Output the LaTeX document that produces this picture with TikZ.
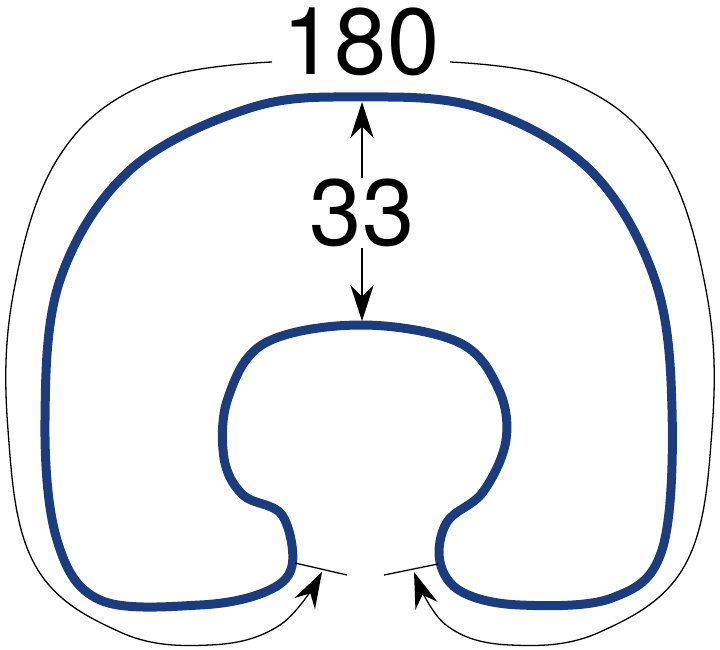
\documentclass[tikz,border=0pt]{standalone}
\usepackage{fontspec}
\setmainfont{TeX Gyre Heros}
\usetikzlibrary{arrows.meta}
\begin{document}
\begin{tikzpicture}[x=1pt,y=-1pt,
  blue/.style={draw={rgb,255:red,28;green,60;blue,128},line width=9pt},
  thin/.style={draw=black,line width=1.3pt},
  tip/.style={-{Stealth[length=20pt,width=13pt,scale=1.8]}},
  arr/.style={thin,tip},
  lbl/.style={font=\fontsize{94}{94}\selectfont,inner sep=1pt}]
\useasboundingbox (0,0) rectangle (720,650);
\draw[blue] plot[smooth cycle,tension=0.6] coordinates{(292,566) (265,592) (200,605) (100,600) (57,540) (45,420) (60,280) (130,170) (250,108) (360,97) (480,108) (590,170) (655,280) (672,410) (662,550) (612,598) (520,605) (462,592) (440,562) (447,522) (483,492) (506,440) (498,388) (458,342) (360,325) (265,343) (228,398) (224,458) (243,495) (282,515)};
\node[lbl] (t180) at (361,42) {180};
\node[lbl] (t33) at (362,213) {33};
\coordinate (top) at (362,102);
\coordinate (bot) at (362,321);
\draw[arr] (t33.north) -- (top);
\draw[arr] (t33.south) -- (bot);
\coordinate (l1) at (295,563); \coordinate (l2) at (347,575);
\coordinate (r1) at (384,575); \coordinate (r2) at (438,564);
\draw[thin] (l1) -- (l2);
\draw[thin] (r1) -- (r2);
\draw[thin,tip] plot[smooth,tension=0.65] coordinates{(272,62) (150,82) (60,155) (14,290) (8,430) (35,565) (120,632) (210,645) (280,625) (322,572)};
\draw[thin,tip] plot[smooth,tension=0.65] coordinates{(450,62) (570,82) (660,155) (706,290) (712,430) (685,565) (600,632) (510,645) (446,625) (414,572)};
\end{tikzpicture}
\end{document}
